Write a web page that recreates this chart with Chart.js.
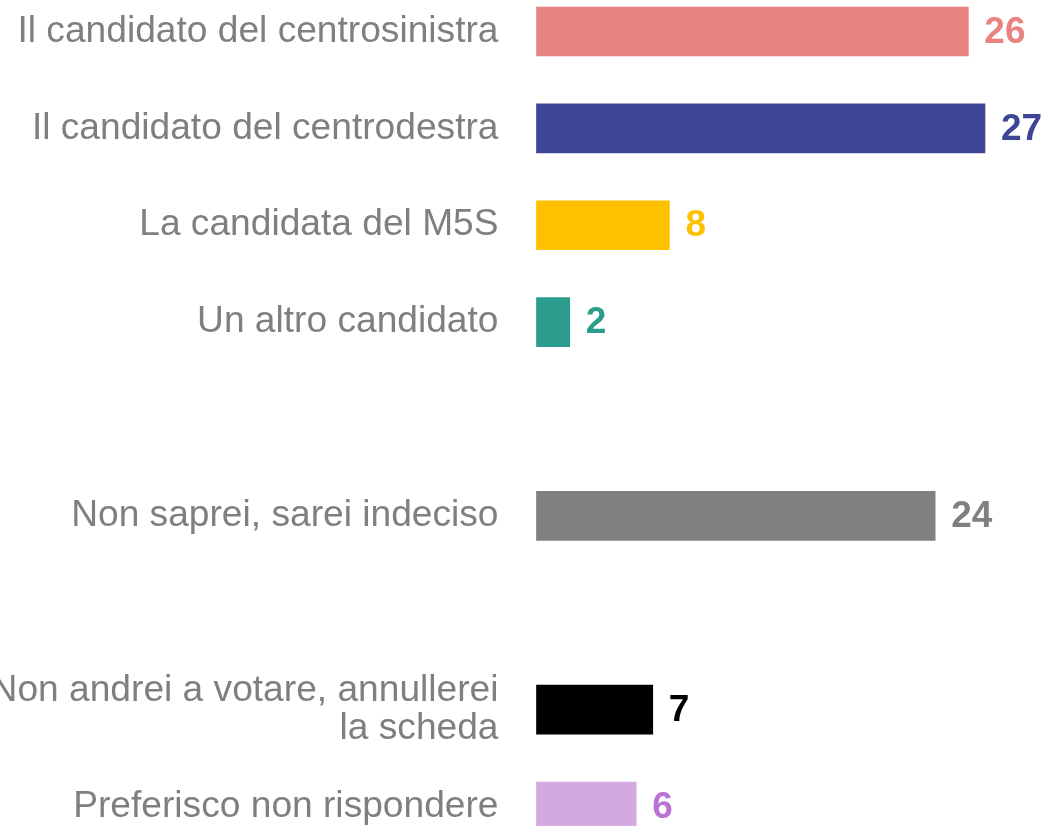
<!DOCTYPE html>
<html>
<head>
<meta charset="utf-8">
<script src="https://cdn.jsdelivr.net/npm/chart.js@4"></script>
<style>
html,body{margin:0;padding:0;background:#ffffff;overflow:hidden}
#wrap{width:1048px;height:826px;position:relative}
</style>
</head>
<body>
<div id="wrap"><canvas id="c" width="1048" height="826"></canvas></div>
<script>
const categories = [
  "Il candidato del centrosinistra",
  "Il candidato del centrodestra",
  "La candidata del M5S",
  "Un altro candidato",
  " ",
  "Non saprei, sarei indeciso",
  "  ",
  ["Non andrei a votare, annullerei", "la scheda"],
  "Preferisco non rispondere"
];
const values = [26, 27, 8, 2, null, 24, null, 7, 6];
const barColors = ["#E88382", "#3C4596", "#FFC000", "#2A9D8C", "#ffffff", "#808080", "#ffffff", "#000000", "#D4A8E0"];
const valueColors = ["#E88382", "#3C4596", "#FFC000", "#2A9D8C", "#ffffff", "#808080", "#ffffff", "#000000", "#BA72D4"];

const valueLabels = {
  id: 'valueLabels',
  afterDatasetsDraw(chart) {
    const ctx = chart.ctx;
    const meta = chart.getDatasetMeta(0);
    ctx.save();
    ctx.font = 'bold 37px "Liberation Sans", Arial, sans-serif';
    ctx.textAlign = 'left';
    ctx.textBaseline = 'middle';
    meta.data.forEach((bar, i) => {
      const v = values[i];
      if (v === null || v === undefined) return;
      ctx.fillStyle = valueColors[i];
      ctx.fillText(String(v), bar.x + 16, bar.y + 1);
    });
    ctx.restore();
  }
};

new Chart(document.getElementById('c'), {
  type: 'bar',
  data: {
    labels: categories,
    datasets: [{
      data: values,
      backgroundColor: barColors,
      borderWidth: 0,
      barThickness: 49,
      clip: false
    }]
  },
  options: {
    indexAxis: 'y',
    responsive: false,
    animation: false,
    events: [],
    layout: { padding: { top: 31.5, bottom: 19.5, left: 0, right: 13.2 } },
    plugins: {
      legend: { display: false },
      tooltip: { enabled: false },
      title: { display: false }
    },
    scales: {
      x: {
        display: false,
        min: 0,
        max: 30
      },
      y: {
        type: 'category',
        offset: false,
        grid: { display: false, drawTicks: false, tickLength: 0 },
        border: { display: false },
        ticks: {
          autoSkip: false,
          padding: 38,
          color: '#7F7F7F',
          font: { family: '"Liberation Sans", Arial, sans-serif', size: 37.15, lineHeight: 1.02 }
        },
        afterFit(scale) {
          scale.width = 536.5;
          scale.paddingTop = 0;
          scale.paddingBottom = 0;
        }
      }
    }
  },
  plugins: [valueLabels]
});
</script>
</body>
</html>
